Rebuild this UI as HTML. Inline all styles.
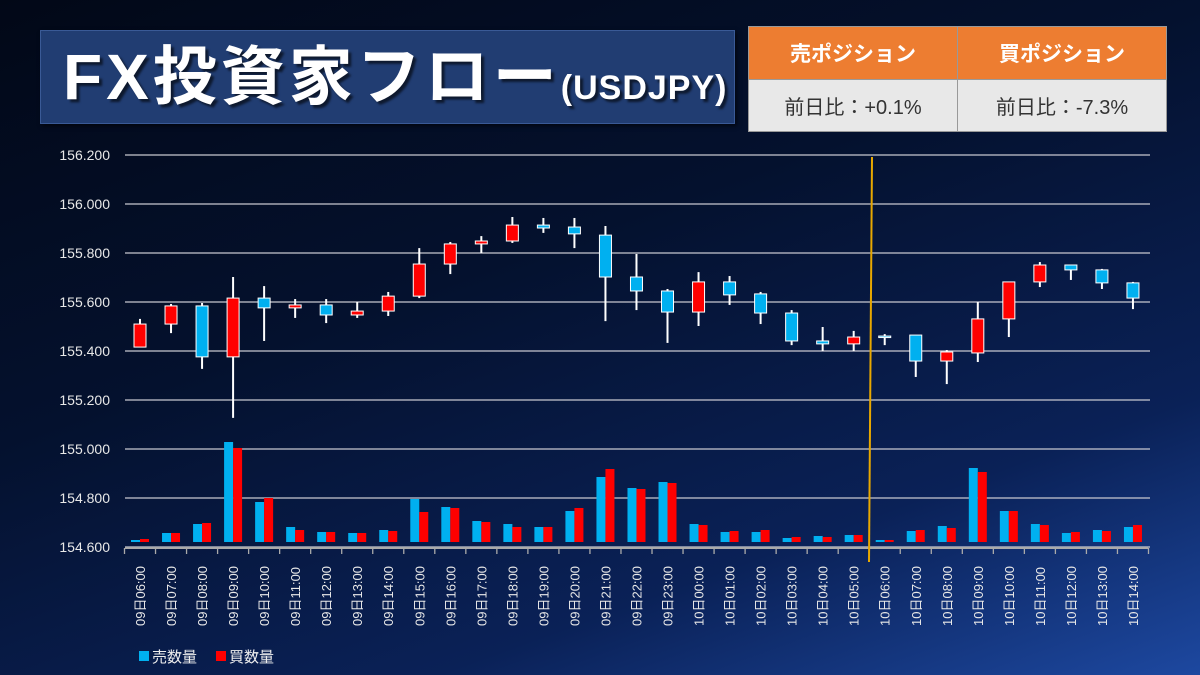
<!DOCTYPE html>
<html><head><meta charset="utf-8"><style>
body{margin:0;width:1200px;height:675px;overflow:hidden;background:linear-gradient(160deg,#020817 0%,#04112e 40%,#0a2157 75%,#1d48a0 100%);font-family:"Liberation Sans","Noto Sans CJK JP",sans-serif;}
#title{position:absolute;left:40px;top:30px;width:693px;height:92px;background:#213d72;border:1px solid #3a5a96;box-shadow:2px 2px 4px rgba(0,0,0,.6);}
#title span.big{position:absolute;left:22px;top:0;line-height:92px;font-size:64px;font-weight:bold;color:#fff;letter-spacing:4px;text-shadow:3px 3px 2px rgba(0,0,0,.6);white-space:nowrap;}
#title span.small{font-size:34px;letter-spacing:1px;}
#tbl{position:absolute;left:748px;top:26px;border-collapse:collapse;}
#tbl td{width:206px;text-align:center;border:1px solid #999;}
#tbl .h{background:#ed7d31;color:#fff;font-weight:bold;font-size:21px;height:50px;}
#tbl .b{background:#e8e8e8;color:#333;font-size:20px;height:49px;}
svg{position:absolute;left:0;top:0;}
</style></head><body>
<div id="title"><span class="big">FX投資家フロー<span class="small">(USDJPY)</span></span></div>
<table id="tbl"><tr><td class="h">売ポジション</td><td class="h">買ポジション</td></tr><tr><td class="b">前日比：+0.1%</td><td class="b">前日比：-7.3%</td></tr></table>
<svg id="chart" width="1200" height="675"></svg>
<script>
const categories=["09日06:00","09日07:00","09日08:00","09日09:00","09日10:00","09日11:00","09日12:00","09日13:00","09日14:00","09日15:00","09日16:00","09日17:00","09日18:00","09日19:00","09日20:00","09日21:00","09日22:00","09日23:00","10日00:00","10日01:00","10日02:00","10日03:00","10日04:00","10日05:00","10日06:00","10日07:00","10日08:00","10日09:00","10日10:00","10日11:00","10日12:00","10日13:00","10日14:00"];
const opens=[155.416,155.510,155.584,155.376,155.616,155.576,155.588,155.547,155.563,155.624,155.755,155.837,155.849,155.914,155.906,155.873,155.702,155.645,155.559,155.682,155.633,155.555,155.441,155.429,155.461,155.465,155.359,155.392,155.531,155.682,155.751,155.731,155.678];
const closes=[155.510,155.584,155.376,155.616,155.576,155.588,155.547,155.563,155.624,155.755,155.837,155.849,155.914,155.902,155.878,155.702,155.645,155.559,155.682,155.629,155.555,155.441,155.429,155.457,155.457,155.359,155.396,155.531,155.682,155.751,155.731,155.678,155.616];
const highs=[155.531,155.592,155.596,155.702,155.665,155.612,155.612,155.600,155.641,155.820,155.845,155.869,155.947,155.943,155.943,155.910,155.796,155.653,155.722,155.706,155.641,155.567,155.498,155.482,155.469,155.465,155.404,155.600,155.682,155.763,155.751,155.735,155.682];
const lows=[155.416,155.473,155.327,155.127,155.441,155.535,155.514,155.535,155.543,155.616,155.714,155.800,155.841,155.882,155.820,155.522,155.567,155.433,155.502,155.588,155.510,155.424,155.400,155.400,155.424,155.294,155.265,155.355,155.457,155.661,155.690,155.653,155.571];
const sellVol=[2,9,18,100,40,15,10,9,12,43,35,21,18,15,31,65,54,60,18,10,10,4,6,7,2,11,16,74,31,18,9,12,15];
const buyVol=[3,9,19,94,44,12,10,9,11,30,34,20,15,15,34,73,53,59,17,11,12,5,5,7,2,12,14,70,31,17,10,11,17];
const yTicks=[154.6,154.8,155.0,155.2,155.4,155.6,155.8,156.0,156.2];
const NS="http://www.w3.org/2000/svg",svg=document.getElementById('chart');
const yP=p=>547-(p-154.6)*245, xC=i=>140+i*31.03, yV=v=>542-v;
function mk(t,a,parent){const e=document.createElementNS(NS,t);for(const k in a)e.setAttribute(k,a[k]);(parent||svg).appendChild(e);return e;}
yTicks.forEach(t=>{
 const l=mk('line',{x1:125,x2:1150,y1:yP(t),y2:yP(t),stroke:'#c8c8d0','stroke-width':1.3});
 
 
 const tx=mk('text',{x:110,y:yP(t)+5,'text-anchor':'end',fill:'#e8e8e8','font-size':14});
 tx.textContent=t.toFixed(3);
 
 
});
categories.forEach((c,i)=>{
 const x=xC(i);
 const sb=mk('rect',{x:x-9,y:yV(sellVol[i]),width:9,height:sellVol[i],fill:'#00b0f0'});
 
 
 const bb=mk('rect',{x:x,y:yV(buyVol[i]),width:9,height:buyVol[i],fill:'#ff0000'});
 
 
});
mk('line',{x1:125,x2:1148,y1:548,y2:548,stroke:'#aaa','stroke-width':2});
for(let i=0;i<=categories.length;i++){mk('line',{x1:124.5+i*31.03,x2:124.5+i*31.03,y1:548,y2:554,stroke:'#aaa','stroke-width':1.3});}
categories.forEach((c,i)=>{
 const x=xC(i);
 const w=mk('line',{x1:x,x2:x,y1:yP(highs[i]),y2:yP(lows[i]),stroke:'#fff','stroke-width':2});
 
 
 const up=closes[i]>=opens[i];
 const top=yP(Math.max(opens[i],closes[i])),bot=yP(Math.min(opens[i],closes[i]));
 const r=mk('rect',{x:x-6,y:top,width:12,height:Math.max(bot-top,1.5),fill:up?'#ff0000':'#00b0f0',stroke:'#fff','stroke-width':1});
 
 
 const t=mk('text',{transform:`translate(${x+5},626) rotate(-90)`,fill:'#e8e8e8','font-size':13});
 t.textContent=c;
 
 
});
const dl=mk('line',{x1:872,x2:869,y1:157,y2:562,stroke:'#e8a800','stroke-width':2});


const g=mk('g',{});


mk('rect',{x:139,y:651,width:10,height:10,fill:'#00b0f0'},g);
const l1=mk('text',{x:152,y:662,fill:'#eee','font-size':15},g);l1.textContent='売数量';
mk('rect',{x:216,y:651,width:10,height:10,fill:'#ff0000'},g);
const l2=mk('text',{x:229,y:662,fill:'#eee','font-size':15},g);l2.textContent='買数量';
</script>
</body></html>
